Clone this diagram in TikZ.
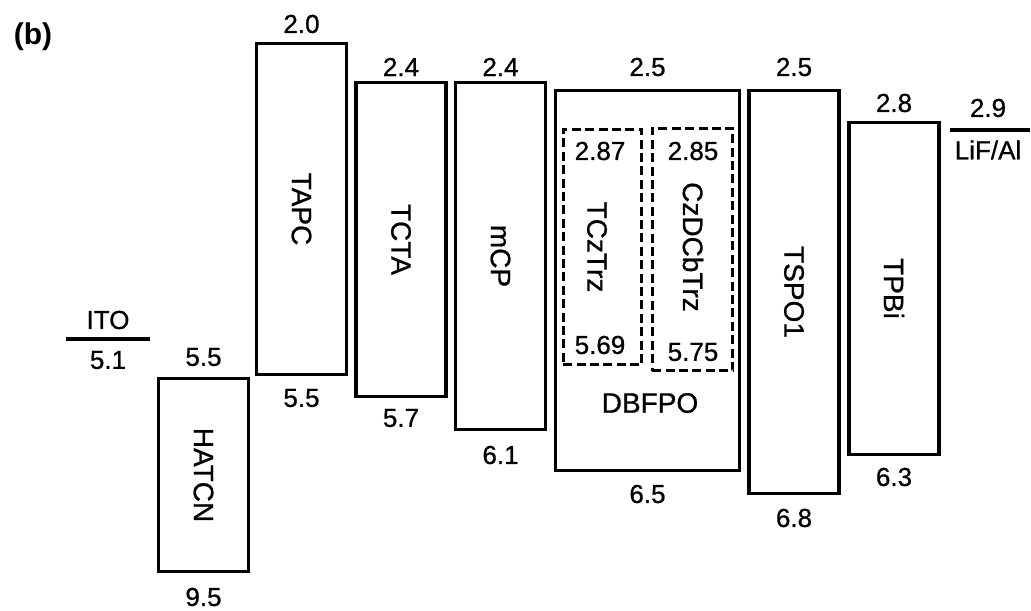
\documentclass[tikz,border=0pt]{standalone}
\usepackage{fontspec}
\setmainfont{Liberation Sans}
\newfontfamily\heavy[FakeBold=0.8]{Liberation Sans}
\usetikzlibrary{positioning}

\tikzset{
  layer/.style={draw, line width=1.7pt, inner sep=0pt, minimum width=45pt},
  dopant/.style={draw, dash pattern=on 4.5pt off 2.2pt, line width=1.5pt, inner sep=0pt},
  level/.style={font=\heavy\fontsize{13}{15}\selectfont, inner sep=0pt},
  mat/.style={rotate=-90, font=\heavy\fontsize{14}{16}\selectfont, inner sep=0pt},
}

\begin{document}
\begin{tikzpicture}[x=0.5pt, y=-0.5pt]
  \useasboundingbox (0,0) rectangle (1031,610);

  \node[font=\fontsize{15}{17}\selectfont\bfseries, inner sep=0pt] (tag) at (33,37) {(b)};

  % electrodes
  \coordinate (itol) at (66,339);
  \coordinate (itor) at (150,339);
  \draw[line width=1.7pt] (itol) -- (itor);
  \node[level] (ito) at (108,320) {ITO};
  \node[level] (itoe) at (108,360) {5.1};

  \coordinate (lifl) at (950,130);
  \coordinate (lifr) at (1030,130);
  \draw[line width=1.7pt] (lifl) -- (lifr);
  \node[level] (lifa) at (988,108) {2.9};
  \node[level] (lif) at (988,150) {LiF/Al};

  % layers
  \node[layer, minimum height=96.5pt] (hatcn) at (203.5,475) {};
  \node[mat] at (hatcn.center) {HATCN};
  \node[level] (hatcnt) at (203.5,357) {5.5};
  \node[level] (hatcnb) at (203.5,597) {9.5};

  \node[layer, minimum height=165.5pt] (tapc) at (301.5,209) {};
  \node[mat] at (tapc.center) {TAPC};
  \node[level] (tapct) at (301.5,24) {2.0};
  \node[level] (tapcb) at (301.5,398) {5.5};

  \node[layer, minimum height=157pt] (tcta) at (401,239.5) {};
  \node[mat] at (tcta.center) {TCTA};
  \node[level] (tctat) at (401,67) {2.4};
  \node[level] (tctab) at (401,418) {5.7};

  \node[layer, minimum height=173.5pt] (mcp) at (500.5,256) {};
  \node[mat] at (mcp.center) {mCP};
  \node[level] (mcpt) at (500.5,67) {2.4};
  \node[level] (mcpb) at (500.5,455) {6.1};

  \node[layer, minimum width=92pt, minimum height=190pt] (dbfpo) at (647.5,280.5) {};
  \node[level, font=\heavy\fontsize{14}{16}\selectfont] (dbfpol) at (650,403) {DBFPO};
  \node[level] (dbfpot) at (647.5,67) {2.5};
  \node[level] (dbfpob) at (647.5,494) {6.5};

  \node[dopant, minimum width=39.3pt, minimum height=117.8pt] (tcz) at (602.5,247) {};
  \node[mat] at (597,247) {TCzTrz};
  \node[level] (tczt) at (600,151) {2.87};
  \node[level] (tczb) at (600,345) {5.69};

  \node[dopant, minimum width=40.3pt, minimum height=121.3pt] (czd) at (692.5,249.5) {};
  \node[mat] at (693,247) {CzDCbTrz};
  \node[level] (czdt) at (693,151) {2.85};
  \node[level] (czdb) at (693,352) {5.75};

  \node[layer, minimum height=201.5pt] (tspo) at (794,292) {};
  \node[mat] at (tspo.center) {TSPO1};
  \node[level] (tspot) at (794,67) {2.5};
  \node[level] (tspob) at (794,518) {6.8};

  \node[layer, minimum height=166pt] (tpbi) at (894,288.5) {};
  \node[mat] at (tpbi.center) {TPBi};
  \node[level] (tpbit) at (894,103) {2.8};
  \node[level] (tpbib) at (894,477) {6.3};
\end{tikzpicture}
\end{document}
